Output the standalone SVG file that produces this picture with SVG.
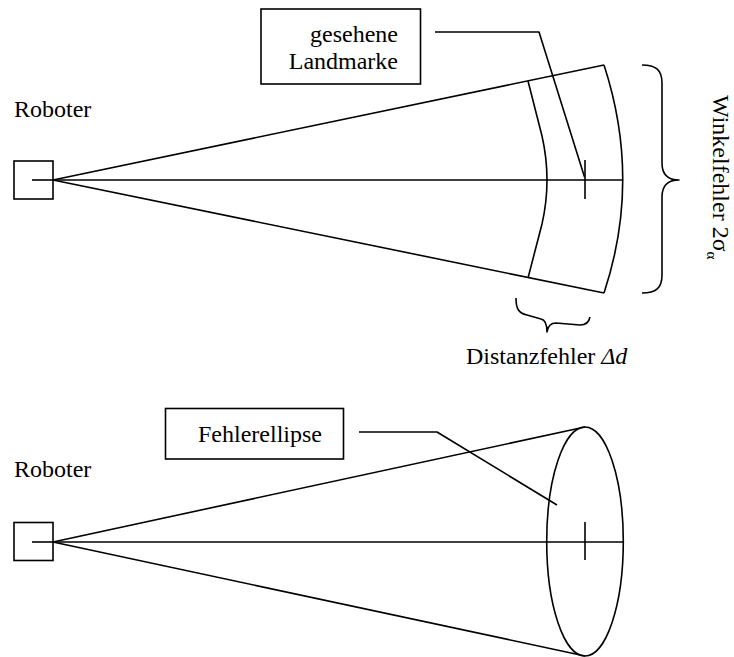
<svg xmlns="http://www.w3.org/2000/svg" width="734" height="657" viewBox="0 0 734 657">
  <style>
    .ln { fill: none; stroke: #000; stroke-width: 1.6; stroke-linejoin: round; }
    .box { fill: #fff; stroke: #000; stroke-width: 1.6; }
    .t { font-family: "Liberation Serif", "Times New Roman", serif; font-size: 24px; fill: #000; }
  </style>
  <rect width="734" height="657" fill="#fff"/>

  <!-- upper figure: measurement with angle and distance error -->
  <g id="connectors-top">
    <line class="ln" x1="32" y1="180" x2="623" y2="180"/>
    <line class="ln" x1="53" y1="180" x2="604" y2="65"/>
    <line class="ln" x1="53" y1="180" x2="604" y2="293"/>
    <!-- outer range arc -->
    <path class="ln" d="M604,65 Q641.5,180 604,293"/>
    <!-- inner range arc -->
    <path class="ln" d="M528,81 L542,136 Q547,158 547,180 Q547,202 542,224 L528,278"/>
    <!-- landmark mark -->
    <line class="ln" x1="585" y1="160" x2="585" y2="199"/>
    <!-- label leader -->
    <polyline class="ln" points="435,32 539,32 584.5,177"/>
    <!-- angle brace -->
    <path class="ln" d="M642,65 C656,65 662,70 662,83 L662,163 C662,174 668,180 679,180 C668,180 662,186 662,197 L662,275 C662,288 656,293 642,293"/>
    <!-- distance brace -->
    <path class="ln" d="M516,298 C516,308 518,313 527,315 L541,319 C546,320 547,326 547,332 C548,325 551,323 556,323 L580,325 C586,325 589,322 590,317"/>
  </g>

  <g id="robot-top">
    <rect class="box" x="14" y="161" width="39" height="38"/>
    <line class="ln" x1="32" y1="180" x2="53" y2="180"/>
  </g>
  <g id="label-robot-top">
    <text class="t" x="14" y="117">Roboter</text>
  </g>
  <g id="landmark-label">
    <rect class="box" x="261" y="9" width="159.5" height="75"/>
    <text class="t" x="398" y="42" text-anchor="end">gesehene</text>
    <text class="t" x="398" y="69" text-anchor="end">Landmarke</text>
  </g>
  <g id="angle-error-label">
    <text class="t" transform="translate(713,95) rotate(90)">Winkelfehler 2σ<tspan font-size="15" dy="6">α</tspan></text>
  </g>
  <g id="distance-error-label">
    <text class="t" x="466" y="364">Distanzfehler <tspan font-style="italic">Δd</tspan></text>
  </g>

  <!-- lower figure: resulting error ellipse -->
  <g id="connectors-bottom">
    <line class="ln" x1="32" y1="542" x2="623" y2="542"/>
    <line class="ln" x1="53" y1="542" x2="585" y2="427"/>
    <line class="ln" x1="53" y1="542" x2="585" y2="656"/>
    <line class="ln" x1="585" y1="522" x2="585" y2="560"/>
    <polyline class="ln" points="359,432 437,432 557,505"/>
  </g>
  <g id="error-ellipse">
    <ellipse class="ln" cx="585" cy="541.5" rx="38.3" ry="114.5"/>
  </g>
  <g id="robot-bottom">
    <rect class="box" x="14" y="522.5" width="39" height="38"/>
    <line class="ln" x1="32" y1="542" x2="53" y2="542"/>
  </g>
  <g id="label-robot-bottom">
    <text class="t" x="14" y="477">Roboter</text>
  </g>
  <g id="ellipse-label">
    <rect class="box" x="165.5" y="408.5" width="178" height="50.5"/>
    <text class="t" x="198" y="442">Fehlerellipse</text>
  </g>
</svg>
